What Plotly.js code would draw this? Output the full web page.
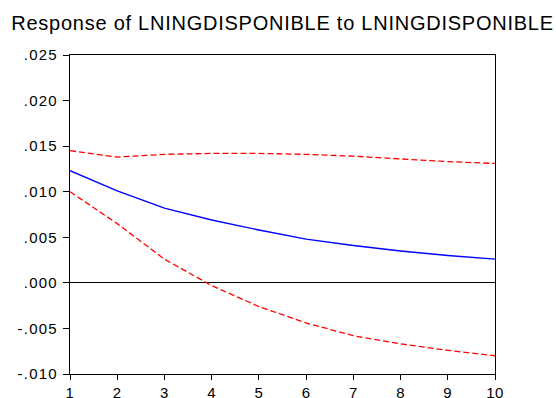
<!DOCTYPE html>
<html>
<head>
<meta charset="utf-8">
<script src="https://cdn.plot.ly/plotly-3.0.1.min.js"></script>
<style>
  html, body { margin: 0; padding: 0; background: #ffffff; }
  #chart { width: 556px; height: 398px; }
  /* slightly spaced lettering for the heading and value labels */
  #chart .gtitle { letter-spacing: 0.75px; }
  #chart .ytick text { letter-spacing: 1.2px; }
  #chart .xtick text { letter-spacing: 0.5px; }
</style>
</head>
<body>
<div id="chart"></div>
<script>
// Impulse response horizon (periods)
const periods = [1, 2, 3, 4, 5, 6, 7, 8, 9, 10];

// Point response and ±2 S.E. bands
const response = [0.0123, 0.0101, 0.0082, 0.0069, 0.0058, 0.0048, 0.0041, 0.0035, 0.0030, 0.0026];
const upperBand = [0.0145, 0.0138, 0.0141, 0.0142, 0.0142, 0.0141, 0.0139, 0.0136, 0.0133, 0.0131];
const lowerBand = [0.0100, 0.0065, 0.0026, -0.0003, -0.0026, -0.0044, -0.0058, -0.0067, -0.0074, -0.0080];

// Value-axis ticks
const yTickVals = [-0.010, -0.005, 0.000, 0.005, 0.010, 0.015, 0.020, 0.025];
const yTickText = ['-.010', '-.005', '.000', '.005', '.010', '.015', '.020', '.025'];

const titleText = 'Response of LNINGDISPONIBLE to LNINGDISPONIBLE';

const font = 'Liberation Sans, Arial, sans-serif';

const traces = [
  {
    x: periods, y: upperBand, type: 'scatter', mode: 'lines',
    line: { color: '#ff0000', width: 1.3, dash: '6px,3px' },
    hoverinfo: 'skip'
  },
  {
    x: periods, y: lowerBand, type: 'scatter', mode: 'lines',
    line: { color: '#ff0000', width: 1.3, dash: '6px,3px' },
    hoverinfo: 'skip'
  },
  {
    x: periods, y: response, type: 'scatter', mode: 'lines',
    line: { color: '#0000ff', width: 1.4 },
    hoverinfo: 'skip'
  }
];

const layout = {
  width: 556,
  height: 398,
  margin: { l: 70, r: 61, t: 55, b: 24, pad: 0 },
  paper_bgcolor: '#ffffff',
  plot_bgcolor: '#ffffff',
  showlegend: false,
  font: { family: font, color: '#000000', size: 14 },
  title: {
    text: titleText,
    font: { family: font, size: 20, color: '#000000' },
    x: 0.5, xref: 'paper', xanchor: 'center',
    y: 0.943, yref: 'container', yanchor: 'middle'
  },
  xaxis: {
    range: [1, 10],
    tickmode: 'array',
    tickvals: periods,
    ticktext: periods.map(String),
    ticks: 'outside', ticklen: 5, tickwidth: 1, tickcolor: '#000000',
    showgrid: false, zeroline: false,
    showline: true, linecolor: '#000000', linewidth: 1.2, mirror: true,
    tickfont: { family: font, size: 15, color: '#000000' },
    fixedrange: true
  },
  yaxis: {
    range: [-0.010, 0.025],
    tickmode: 'array',
    tickvals: yTickVals,
    ticktext: yTickText,
    ticks: 'outside', ticklen: 6, tickwidth: 1, tickcolor: '#000000',
    ticklabelstandoff: 2,
    showgrid: false,
    zeroline: true, zerolinecolor: '#000000', zerolinewidth: 1,
    showline: true, linecolor: '#000000', linewidth: 1.2, mirror: true,
    tickfont: { family: font, size: 15, color: '#000000' },
    fixedrange: true
  }
};

Plotly.newPlot('chart', traces, layout, { displayModeBar: false, staticPlot: true });
</script>
</body>
</html>
